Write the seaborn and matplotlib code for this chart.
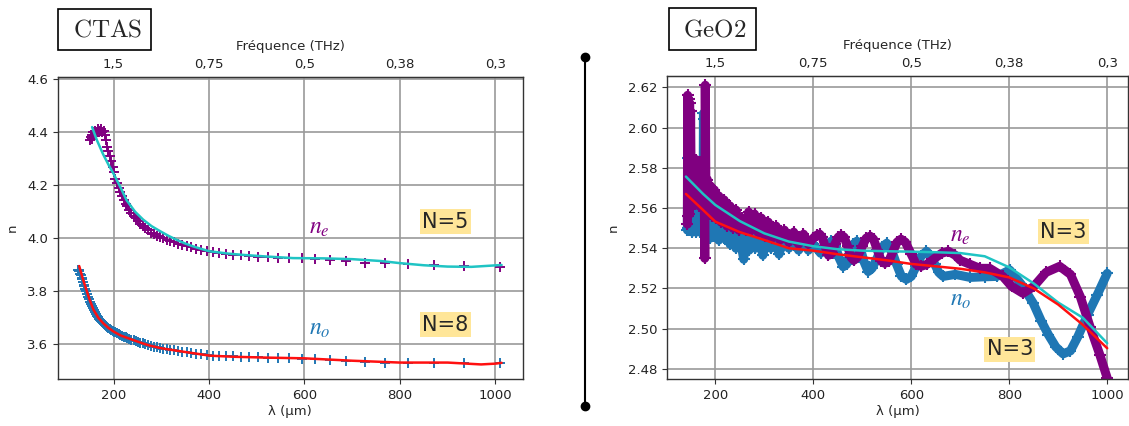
import numpy as np
import pandas as pd
import seaborn as sns
import matplotlib.pyplot as plt
from matplotlib.lines import Line2D

# ---------------- data ----------------
# top axis (frequency) labels at the wavelength gridlines
top_ticks = [200, 400, 600, 800, 1000]
top_labels = ['1,5', '0,75', '0,5', '0,38', '0,3']

# CTAS, n_e measured points
ctas_ne_lam = [150, 152, 154, 155, 157, 159, 161, 163, 165, 167, 170, 172, 174, 176, 179,
               181, 184, 187, 189, 192, 195, 198, 201, 204, 207, 211, 214, 218, 221, 225,
               229, 233, 237, 242, 246, 251, 256, 261, 266, 272, 278, 284, 290, 297, 304,
               311, 319, 326, 335, 344, 353, 363, 373, 384, 396, 408, 421, 435, 451, 467,
               484, 503, 523, 545, 568, 594, 622, 654, 688, 726, 769, 817, 872, 935, 1010]
ctas_ne_n = [4.37, 4.38, 4.375, 4.39, 4.40, 4.385, 4.405, 4.395, 4.40, 4.41, 4.40, 4.405, 4.41, 4.40, 4.405,
             4.39, 4.37, 4.345, 4.33, 4.31, 4.29, 4.27, 4.25, 4.225, 4.21, 4.19, 4.175, 4.16, 4.145, 4.13,
             4.12, 4.105, 4.095, 4.085, 4.075, 4.065, 4.055, 4.045, 4.04, 4.03, 4.02, 4.015, 4.01, 4.005, 4.0,
             3.995, 3.99, 3.985, 3.98, 3.975, 3.97, 3.965, 3.96, 3.955, 3.952, 3.948, 3.945, 3.94, 3.937, 3.935,
             3.932, 3.93, 3.928, 3.926, 3.925, 3.924, 3.922, 3.918, 3.915, 3.905, 3.905, 3.903, 3.898, 3.897, 3.893]

# CTAS, n_o measured points
ctas_no_lam = [125, 127, 128, 130, 131, 133, 134, 136, 138, 139, 141, 143, 145, 147, 149,
               151, 153, 155, 157, 159, 161, 163, 165, 167, 170, 172, 174, 176, 179, 181,
               184, 187, 189, 192, 195, 198, 201, 204, 207, 211, 214, 218, 221, 225, 229,
               233, 237, 242, 246, 251, 256, 261, 266, 272, 278, 284, 290, 297, 304, 311,
               319, 326, 335, 344, 353, 363, 373, 384, 396, 408, 421, 435, 451, 467, 484,
               503, 523, 545, 568, 594, 622, 654, 688, 726, 769, 817, 872, 935, 1010]
ctas_no_n = [3.88, 3.875, 3.88, 3.865, 3.86, 3.85, 3.845, 3.835, 3.825, 3.82, 3.81, 3.80, 3.79, 3.78, 3.77,
             3.76, 3.752, 3.745, 3.735, 3.728, 3.72, 3.714, 3.708, 3.702, 3.696, 3.692, 3.688, 3.684, 3.678, 3.674,
             3.670, 3.665, 3.662, 3.658, 3.655, 3.651, 3.648, 3.645, 3.642, 3.638, 3.635, 3.632, 3.629, 3.626, 3.623,
             3.620, 3.618, 3.615, 3.612, 3.609, 3.606, 3.603, 3.600, 3.597, 3.594, 3.591, 3.589, 3.586, 3.584, 3.582,
             3.579, 3.577, 3.575, 3.572, 3.570, 3.567, 3.565, 3.562, 3.559, 3.557, 3.556, 3.555, 3.554, 3.553, 3.552,
             3.551, 3.550, 3.549, 3.548, 3.546, 3.544, 3.541, 3.537, 3.533, 3.531, 3.530, 3.531, 3.530, 3.528]

# CTAS fits
ctas_ne_fit_lam = [155, 165, 178, 190, 200, 215, 227, 245, 262, 280, 297, 315, 332, 350, 367,
                   385, 400, 440, 472, 520, 576, 640, 700, 760, 800, 850, 900, 950, 1013]
ctas_ne_fit_n = [4.419, 4.37, 4.317, 4.275, 4.243, 4.19, 4.144, 4.10, 4.07, 4.045, 4.027, 4.009, 3.994, 3.98, 3.969,
                 3.959, 3.951, 3.942, 3.937, 3.931, 3.925, 3.924, 3.921, 3.914, 3.906, 3.898, 3.893, 3.892, 3.899]
ctas_no_fit_lam = [128, 136, 144, 150, 158, 168, 178, 189, 200, 215, 241, 260, 276, 300, 346,
                   402, 450, 513, 600, 700, 800, 900, 970, 1000, 1013]
ctas_no_fit_n = [3.895, 3.845, 3.80, 3.767, 3.73, 3.70, 3.68, 3.662, 3.648, 3.633, 3.616, 3.604, 3.595, 3.585, 3.572,
                 3.557, 3.553, 3.55, 3.547, 3.538, 3.531, 3.531, 3.524, 3.527, 3.530]

# GeO2, n_e measured (traced along the band)
geo_ne_lam = [143, 143.5, 144.5, 145.5, 146.5, 147.5, 148.5, 149.5, 151, 153, 155, 157, 159, 161, 163,
              165, 167, 169, 171, 173, 175, 177, 178.5, 179.5, 181, 184, 187, 190, 194, 198,
              202, 207, 212, 218, 224, 230, 236, 242, 248, 255, 262, 268, 274, 280, 287,
              294, 301, 308, 316, 324, 332, 341, 350, 360, 370, 380, 390, 400, 407, 413,
              418, 424, 431, 438, 444, 451, 457, 463, 470, 477, 483, 490, 500, 508, 516,
              523, 531, 539, 546, 554, 562, 571, 579, 588, 600, 610, 620, 632, 648, 662,
              676, 690, 700, 720, 740, 760, 787, 805, 828, 850, 875, 903, 925, 945, 965,
              985, 1000]
geo_ne_n = [2.552, 2.616, 2.556, 2.614, 2.557, 2.612, 2.560, 2.608, 2.562, 2.584, 2.563, 2.583, 2.562, 2.584, 2.564,
            2.582, 2.561, 2.583, 2.562, 2.581, 2.560, 2.579, 2.535, 2.621, 2.557, 2.574, 2.557, 2.571, 2.556, 2.569,
            2.555, 2.566, 2.553, 2.564, 2.551, 2.561, 2.550, 2.559, 2.549, 2.555, 2.549, 2.558, 2.549, 2.557, 2.548,
            2.555, 2.546, 2.553, 2.545, 2.551, 2.544, 2.549, 2.543, 2.548, 2.542, 2.547, 2.542, 2.545, 2.5465, 2.547,
            2.5455, 2.541, 2.5365, 2.5375, 2.542, 2.5455, 2.5465, 2.5455, 2.541, 2.5355, 2.534, 2.5355, 2.541, 2.545, 2.546,
            2.5445, 2.539, 2.5335, 2.5325, 2.5335, 2.538, 2.543, 2.5445, 2.543, 2.537, 2.532, 2.531, 2.532, 2.535, 2.5375,
            2.5385, 2.5365, 2.534, 2.532, 2.530, 2.530, 2.526, 2.521, 2.5176, 2.521, 2.528, 2.531, 2.527, 2.516, 2.501,
            2.487, 2.4755]

# GeO2, n_o measured (traced along the band)
geo_no_lam = [143, 143.5, 144.5, 145.5, 146.5, 147.5, 149, 151, 153, 155, 157, 159, 161, 163, 165,
              167, 169, 171, 173, 175, 175.8, 176.8, 177.8, 179, 181, 184, 187, 190, 194, 198,
              202, 207, 212, 218, 224, 230, 236, 242, 248, 254, 258, 263, 269, 275, 282,
              289, 297, 305, 313, 321, 330, 340, 350, 360, 370, 380, 390, 400, 407, 415,
              425, 437, 445, 453, 461, 468, 475, 482, 489, 496, 504, 512, 520, 530, 540,
              550, 560, 570, 580, 590, 600, 610, 620, 631, 640, 648, 656, 665, 690, 720,
              750, 775, 801, 825, 849, 865, 880, 895, 910, 925, 940, 960, 980, 1000]
geo_no_n = [2.549, 2.585, 2.550, 2.584, 2.549, 2.582, 2.550, 2.566, 2.548, 2.566, 2.549, 2.565, 2.548, 2.563, 2.549,
            2.562, 2.548, 2.561, 2.549, 2.560, 2.607, 2.551, 2.604, 2.549, 2.560, 2.546, 2.558, 2.545, 2.556, 2.546,
            2.555, 2.544, 2.554, 2.545, 2.553, 2.542, 2.551, 2.540, 2.549, 2.540, 2.5345, 2.547, 2.539, 2.548, 2.540,
            2.547, 2.5365, 2.545, 2.540, 2.546, 2.537, 2.545, 2.540, 2.544, 2.539, 2.543, 2.539, 2.542, 2.540, 2.5375,
            2.541, 2.5435, 2.541, 2.535, 2.5308, 2.532, 2.537, 2.542, 2.5435, 2.540, 2.533, 2.5284, 2.530, 2.535, 2.5405,
            2.5425, 2.539, 2.532, 2.526, 2.5245, 2.526, 2.531, 2.536, 2.5385, 2.536, 2.532, 2.528, 2.526, 2.527, 2.5255,
            2.5258, 2.526, 2.5292, 2.522, 2.5127, 2.504, 2.497, 2.491, 2.4875, 2.489, 2.496, 2.507, 2.517, 2.5275]

# GeO2 fits
geo_fit_lam = [140, 175, 200, 250, 300, 350, 400, 450, 500, 550, 600, 650, 700, 750, 800, 850, 900, 950, 1000]
geo_ne_fit_n = [2.5756, 2.5670, 2.5615, 2.5535, 2.5474, 2.5433, 2.5410, 2.5395, 2.5388, 2.5385,
                2.5383, 2.5380, 2.5376, 2.5360, 2.5305, 2.5225, 2.5130, 2.5055, 2.4928]
geo_no_fit_n = [2.5670, 2.5590, 2.5532, 2.5480, 2.5441, 2.5400, 2.5388, 2.5370, 2.5355, 2.5340,
                2.5322, 2.5310, 2.5298, 2.5280, 2.5255, 2.5200, 2.5120, 2.5020, 2.4903]

PURPLE = '#800080'
BLUE = '#1f77b4'
CYAN = '#1fc4c4'
RED = '#ff1010'
HL = '#ffe699'

sns.set_style('ticks')
plt.rcParams['font.family'] = ['DejaVu Sans']
plt.rcParams['axes.edgecolor'] = '#333333'

fig = plt.figure(figsize=(11.29, 4.26), dpi=100)
ax1 = fig.add_axes([0.0513, 0.1103, 0.4115, 0.7096])
ax2 = fig.add_axes([0.5908, 0.1103, 0.4082, 0.7113])


def style_axes(ax, xlim, ylim, yticks, yfmt):
    ax.set_xlim(*xlim)
    ax.set_ylim(*ylim)
    ax.set_xticks([200, 400, 600, 800, 1000])
    ax.set_yticks(yticks)
    ax.set_yticklabels([yfmt.format(v) for v in yticks])
    ax.grid(True, color='#9a9a9a', lw=1.2)
    ax.set_axisbelow(True)
    ax.tick_params(labelsize=9.5, length=3.5, width=0.8, color='#333333', labelcolor='#222222')
    ax.set_xlabel('λ (µm)', fontsize=9.5, labelpad=2)
    ax.set_ylabel('n', fontsize=9.5, labelpad=6)
    for s in ax.spines.values():
        s.set_visible(True)
        s.set_linewidth(1.0)
    sec = ax.secondary_xaxis('top')
    sec.set_xticks(top_ticks)
    sec.set_xticklabels(top_labels)
    sec.tick_params(labelsize=9.5, length=0, pad=4, labelcolor='#222222')
    sec.set_xlabel('Fréquence (THz)', fontsize=9.5, labelpad=6)


# ---------------- CTAS ----------------
sns.scatterplot(x=ctas_ne_lam, y=ctas_ne_n, ax=ax1, marker='+', color=PURPLE, s=60, linewidth=1.4)
sns.scatterplot(x=ctas_no_lam, y=ctas_no_n, ax=ax1, marker='+', color=BLUE, s=60, linewidth=1.4)
sns.lineplot(x=ctas_ne_fit_lam, y=ctas_ne_fit_n, ax=ax1, color=CYAN, lw=1.8, sort=False, estimator=None)
sns.lineplot(x=ctas_no_fit_lam, y=ctas_no_fit_n, ax=ax1, color=RED, lw=1.8, sort=False, estimator=None)
style_axes(ax1, (83.4, 1056.8), (3.469, 4.609), np.round(np.arange(3.6, 4.61, 0.2), 1), '{:.1f}')

ax1.text(631, 4.043, r'$n_e$', color=PURPLE, fontsize=17, ha='center', va='center', math_fontfamily='stix')
ax1.text(631, 3.66, r'$n_o$', color=BLUE, fontsize=17, ha='center', va='center', math_fontfamily='stix')
ax1.text(895, 4.062, 'N=5', fontsize=15, ha='center', va='center',
         bbox=dict(boxstyle='square,pad=0.12', fc=HL, ec='none'))
ax1.text(895, 3.673, 'N=8', fontsize=15, ha='center', va='center',
         bbox=dict(boxstyle='square,pad=0.12', fc=HL, ec='none'))

# ---------------- GeO2 ----------------
sns.lineplot(x=geo_no_lam, y=geo_no_n, ax=ax2, color=BLUE, lw=6.5, marker='+', markersize=9,
             markeredgewidth=1.5, markeredgecolor=BLUE, sort=False, estimator=None)
sns.lineplot(x=geo_ne_lam, y=geo_ne_n, ax=ax2, color=PURPLE, lw=6.5, marker='+', markersize=9,
             markeredgewidth=1.5, markeredgecolor=PURPLE, sort=False, estimator=None)
sns.lineplot(x=geo_fit_lam, y=geo_ne_fit_n, ax=ax2, color=CYAN, lw=1.8, sort=False, estimator=None)
sns.lineplot(x=geo_fit_lam, y=geo_no_fit_n, ax=ax2, color=RED, lw=1.8, sort=False, estimator=None)
style_axes(ax2, (101.4, 1042.2), (2.475, 2.6256), np.round(np.arange(2.48, 2.621, 0.02), 2), '{:.2f}')

ax2.text(701, 2.5466, r'$n_e$', color=PURPLE, fontsize=17, ha='center', va='center', math_fontfamily='stix')
ax2.text(701, 2.515, r'$n_o$', color=BLUE, fontsize=17, ha='center', va='center', math_fontfamily='stix')
ax2.text(911, 2.5483, 'N=3', fontsize=15, ha='center', va='center',
         bbox=dict(boxstyle='square,pad=0.12', fc=HL, ec='none'))
ax2.text(801, 2.4898, 'N=3', fontsize=15, ha='center', va='center',
         bbox=dict(boxstyle='square,pad=0.12', fc=HL, ec='none'))

# ---------------- title boxes and separator ----------------
fig.text(0.0926, 0.9308, r'$\;\mathrm{CTAS}\;$', fontsize=18, ha='center', va='center', math_fontfamily='cm',
         bbox=dict(boxstyle='square,pad=0.35', fc='white', ec='black', lw=1.2))
fig.text(0.6307, 0.9319, r'$\;\mathrm{GeO2}\;$', fontsize=18, ha='center', va='center', math_fontfamily='cm',
         bbox=dict(boxstyle='square,pad=0.35', fc='white', ec='black', lw=1.2))
fig.add_artist(Line2D([0.5179, 0.5179], [0.866, 0.048], transform=fig.transFigure, color='black',
                      lw=1.5, marker='o', markersize=6))

fig.savefig('out.png', dpi=100)
